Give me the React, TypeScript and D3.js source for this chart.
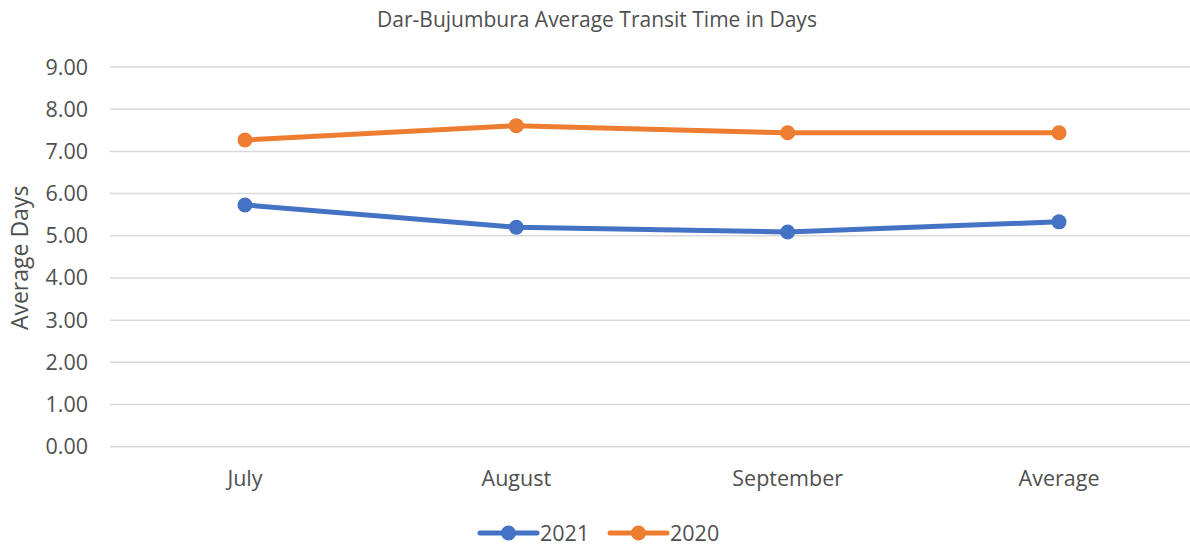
import React from "react";
import * as d3 from "d3";

const categories = ["July", "August", "September", "Average"];
const series2021 = [5.73, 5.2, 5.09, 5.33];
const series2020 = [7.27, 7.61, 7.44, 7.44];
const yTicks = [0, 1, 2, 3, 4, 5, 6, 7, 8, 9];
const seriesNames = ["2021", "2020"];
const colors = ["#4472C4", "#ED7D31"];

export default function App() {
  const W = 1190, H = 546;
  const left = 109.3, right = 1194.7, top = 67, bottom = 446.7;
  const gridLeft = 110, gridRight = 1190;
  const x = d3.scaleBand<string>().domain(categories).range([left, right]);
  const y = d3.scaleLinear().domain([0, 9]).range([bottom, top]);
  const cx = (c: string) => (x(c) as number) + x.bandwidth() / 2;
  const line = d3.line<number>().x((_, i) => cx(categories[i])).y((d) => y(d));
  const font = "'Open Sans', 'Noto Sans', sans-serif";
  const all = [series2021, series2020];
  const txt = "#505050";
  return (
    <svg width={W} height={H} style={{ position: "absolute", left: 0, top: 0, background: "#fff" }}>
      <text x={597} y={27} textAnchor="middle" fontFamily={font} fontSize={21} fill={txt}>
        Dar-Bujumbura Average Transit Time in Days
      </text>
      {yTicks.map((t) => (
        <g key={t}>
          <line x1={gridLeft} x2={gridRight} y1={y(t)} y2={y(t)} stroke="#d9d9d9" strokeWidth={1.5} />
          <text x={88} y={y(t)} dy="0.35em" textAnchor="end" fontFamily={font} fontSize={21.5} fill={txt}>
            {t.toFixed(2)}
          </text>
        </g>
      ))}
      <text
        transform={`translate(28, ${(top + bottom) / 2 + 1}) rotate(-90)`}
        textAnchor="middle"
        fontFamily={font}
        fontSize={23}
        fill={txt}
      >
        Average Days
      </text>
      {categories.map((c) => (
        <text key={c} x={cx(c)} y={486} textAnchor="middle" fontFamily={font} fontSize={21.5} fill={txt}>
          {c}
        </text>
      ))}
      {all.map((s, si) => (
        <g key={si}>
          <path d={line(s) as string} fill="none" stroke={colors[si]} strokeWidth={5} strokeLinejoin="round" />
          {s.map((v, i) => (
            <circle key={i} cx={cx(categories[i])} cy={y(v)} r={7.5} fill={colors[si]} />
          ))}
        </g>
      ))}
      {seriesNames.map((n, i) => {
        const lx = 480 + i * 130;
        const ly = 533;
        return (
          <g key={n}>
            <line x1={lx} x2={lx + 57} y1={ly} y2={ly} stroke={colors[i]} strokeWidth={5} strokeLinecap="round" />
            <circle cx={lx + 28.5} cy={ly} r={7.5} fill={colors[i]} />
            <text x={lx + 60} y={ly} dy="0.35em" fontFamily={font} fontSize={21.5} fill={txt}>
              {n}
            </text>
          </g>
        );
      })}
    </svg>
  );
}
